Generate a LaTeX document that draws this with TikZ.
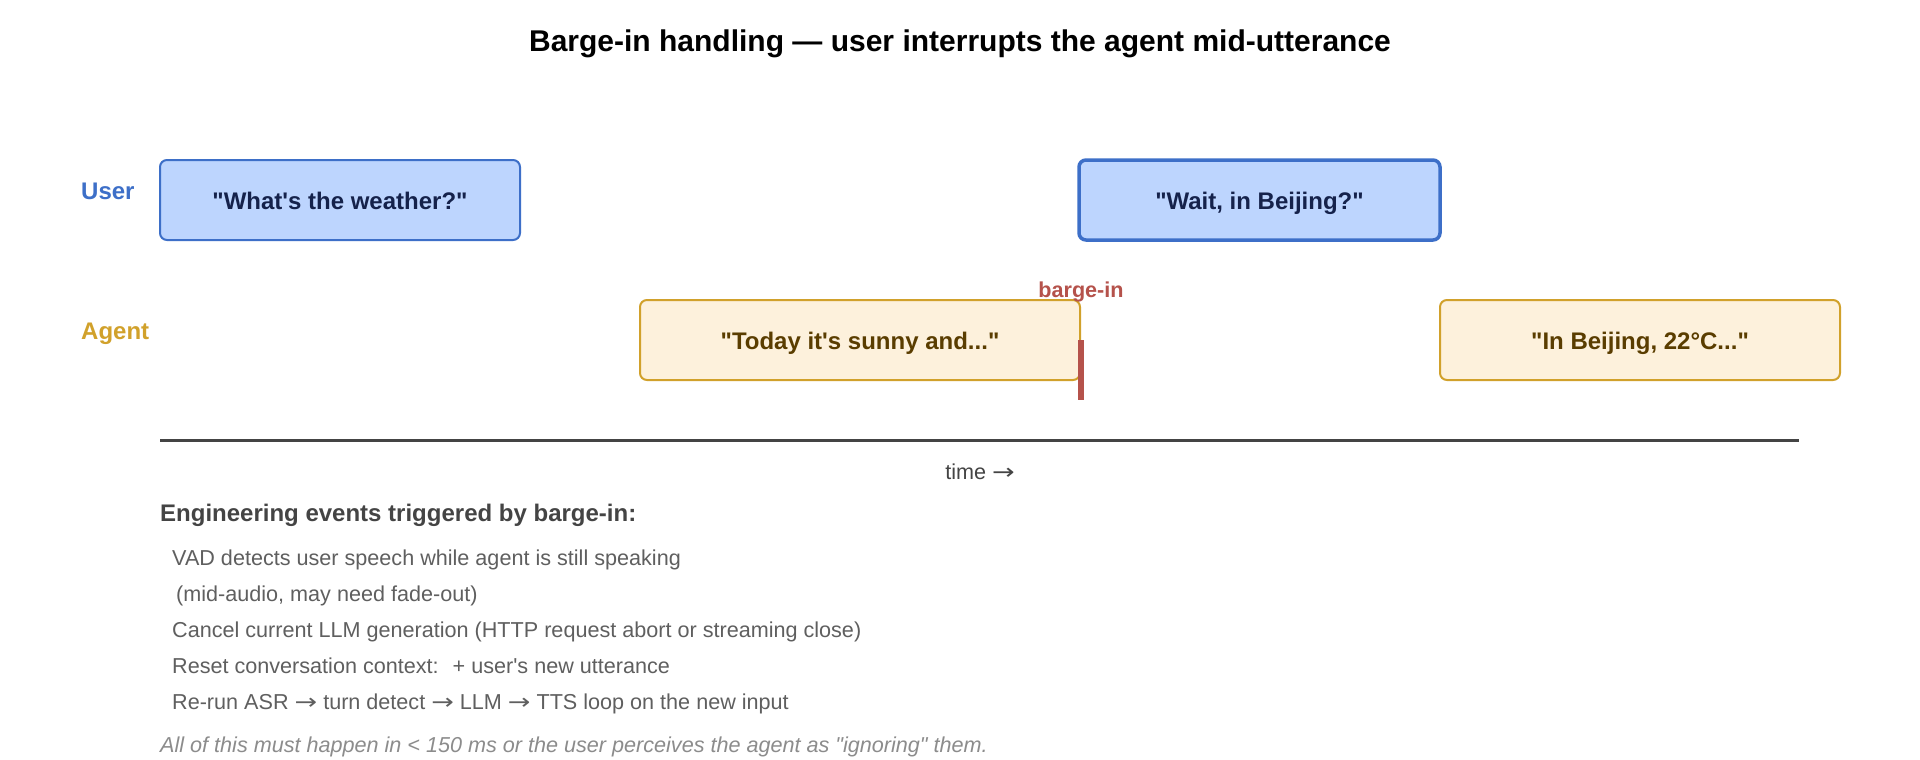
\documentclass[tikz,border=0pt]{standalone}
\usepackage{fontspec}
\setmainfont[Ligatures=TeXOff]{Liberation Sans}
\newfontfamily\arrowfont{DejaVu Sans}
\usepackage{xcolor}
\usetikzlibrary{positioning}

\definecolor{userblue}{HTML}{3D6FC8}
\definecolor{userfill}{HTML}{BDD5FE}
\definecolor{usertext}{HTML}{15224B}
\definecolor{agentgold}{HTML}{D1A12B}
\definecolor{agentfill}{HTML}{FDF1DC}
\definecolor{agenttext}{HTML}{5A3D00}
\definecolor{bargered}{HTML}{B5524B}
\definecolor{axisgray}{HTML}{444444}
\definecolor{notegray}{HTML}{5F5F5F}

\newcommand{\fsz}[1]{\fontsize{#1}{#1}\selectfont}
\newcommand{\rarr}{\scalebox{1.25}[1]{\arrowfont →}}

\begin{document}
\begin{tikzpicture}[x=1pt,y=-1pt,
  ubox/.style={draw=userblue,fill=userfill,line width=2pt,rounded corners=7pt,
    text=usertext,font=\fsz{24}\bfseries,inner sep=0pt,minimum height=80pt,
    text height=18pt,text depth=0pt},
  abox/.style={draw=agentgold,fill=agentfill,line width=2pt,rounded corners=7pt,
    text=agenttext,font=\fsz{24}\bfseries,inner sep=0pt,minimum height=80pt,
    text height=18pt,text depth=0pt},
  lane/.style={font=\fsz{24}\bfseries,inner sep=0pt,anchor=base west},
  item/.style={font=\fsz{21.6},text=notegray,inner sep=0pt,anchor=base west}]
\fill[white] (0,0) rectangle (1920,760);
\node[font=\fsz{30}\bfseries,anchor=base,inner sep=0pt] (title) at (960,52)
  {Barge-in handling — user interrupts the agent mid-utterance};

% lanes
\node[lane,text=userblue] (user) at (81,199) {User};
\node[lane,text=agentgold] (agent) at (81,339) {Agent};

% utterances
\node[ubox,minimum width=360pt] (ask) at (340,200) {"What's the weather?"};
\node[ubox,minimum width=361pt,line width=3.5pt] (wait) at (1259.5,200) {"Wait, in Beijing?"};
\node[abox,minimum width=440pt] (sunny) at (860,340) {"Today it's sunny and..."};
\node[abox,minimum width=400pt] (beijing) at (1640,340) {"In Beijing, 22°C..."};

% barge-in mark
\draw[bargered,line width=6pt] (sunny.east) -- ++(0,60);
\node[font=\fsz{21.6}\bfseries,text=bargered,inner sep=0pt,above=-3pt of sunny.north east] (barge) {barge-in};

% time axis
\coordinate (t0) at (160,440);
\coordinate (t1) at (1799,440);
\draw[axisgray,line width=3pt] (t0) -- (t1);
\node[font=\fsz{21.6},text=axisgray,anchor=base,inner sep=0pt] (time) at (980,479) {time \rarr};

% notes
\node[font=\fsz{24}\bfseries,text=axisgray,anchor=base west,inner sep=0pt] (events) at (160,521)
  {Engineering events triggered by barge-in:};
\node[item] (vad) at (172,565) {VAD detects user speech while agent is still speaking};
\node[item] (fade) at (176,601) {(mid-audio, may need fade-out)};
\node[item] (cancel) at (172,637) {Cancel current LLM generation (HTTP request abort or streaming close)};
\node[item] (reset) at (172,673) {Reset conversation context: \ + user's new utterance};
\node[item] (rerun) at (172,709) {Re-run ASR \rarr{} turn detect \rarr{} LLM \rarr{} TTS loop on the new input};
\node[item,text=gray!90,font=\fsz{21.6}\itshape] (budget) at (160,752)
  {All of this must happen in < 150 ms or the user perceives the agent as "ignoring" them.};
\end{tikzpicture}
\end{document}
